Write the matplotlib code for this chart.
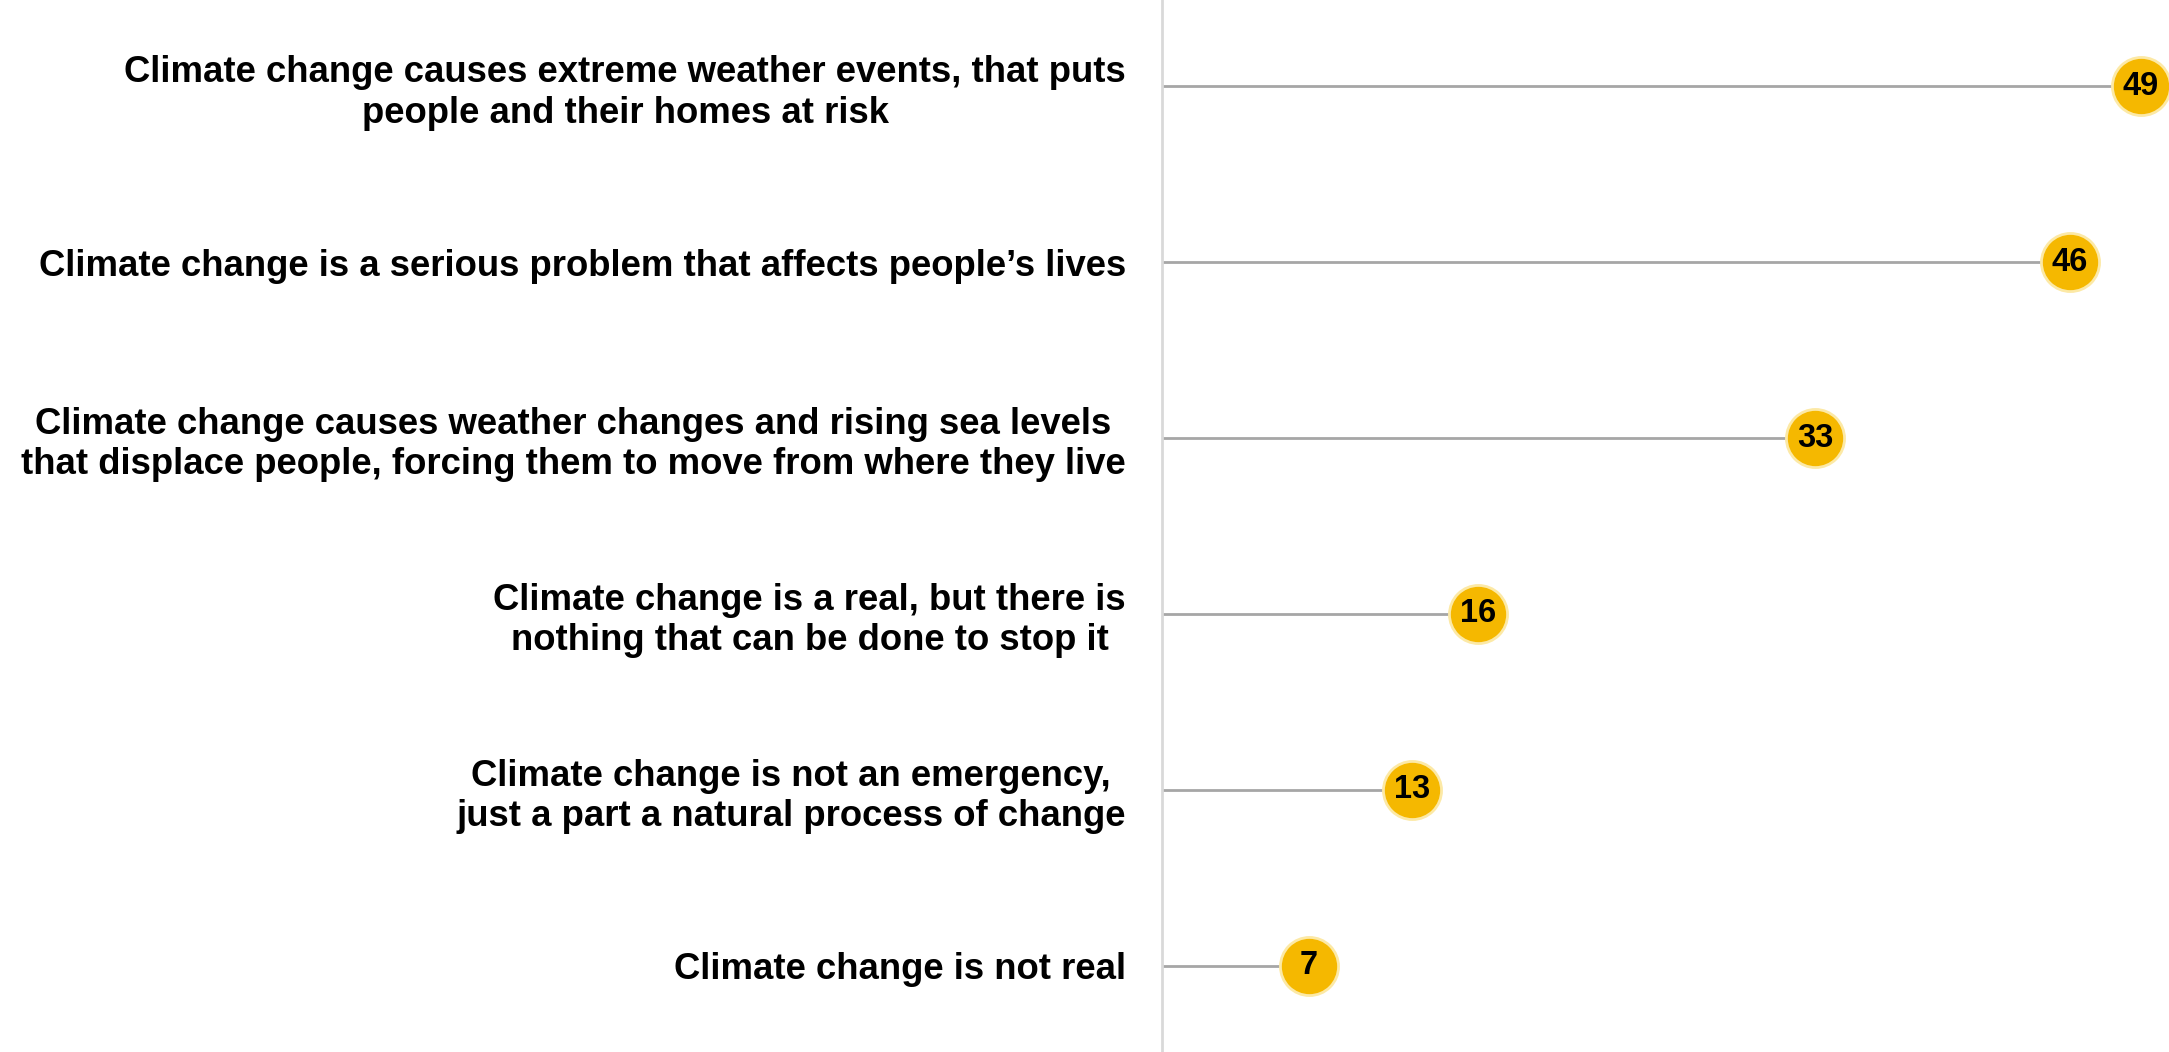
import matplotlib.pyplot as plt

# Statements and share of respondents (%), positions
labels = [
    "Climate change causes extreme weather events, that puts\npeople and their homes at risk",
    "Climate change is a serious problem that affects people\u2019s lives",
    "Climate change causes weather changes and rising sea levels\nthat displace people, forcing them to move from where they live",
    "Climate change is a real, but there is\nnothing that can be done to stop it",
    "Climate change is not an emergency,\njust a part a natural process of change",
    "Climate change is not real",
]
values = [49.3, 45.7, 32.9, 15.9, 12.6, 7.4]

plt.rcParams['font.family'] = ['Liberation Sans', 'DejaVu Sans']

fig = plt.figure(figsize=(21.69, 10.52), dpi=100)
ax = fig.add_axes([1162 / 2169, 0, 993 / 2169, 1])

ypos = list(range(len(values)))

# stems
ax.hlines(ypos, 0, values, color='#A6A6A6', linewidth=2, zorder=1)
# dots
ax.scatter(values, ypos, s=1750, color='#F5B800', edgecolors='#FCE9A6',
           linewidths=2, zorder=2, clip_on=False)
for v, y in zip(values, ypos):
    ax.text(v, y, "%d" % round(v), ha='center', va='center', fontsize=23.5,
            fontweight='bold', color='black', zorder=3, clip_on=False)

ax.set_xlim(0, 50)
ax.set_ylim(5.49, -0.49)

ax.set_yticks(ypos)
ax.set_yticklabels(labels, fontsize=26.3, fontweight='bold', multialignment='center')
ax.tick_params(axis='y', length=0, pad=26)
ax.set_xticks([])

for s in ['top', 'right', 'bottom']:
    ax.spines[s].set_visible(False)
ax.spines['left'].set_color('#D9D9D9')
ax.spines['left'].set_linewidth(2)

fig.savefig('out.png', dpi=100)
